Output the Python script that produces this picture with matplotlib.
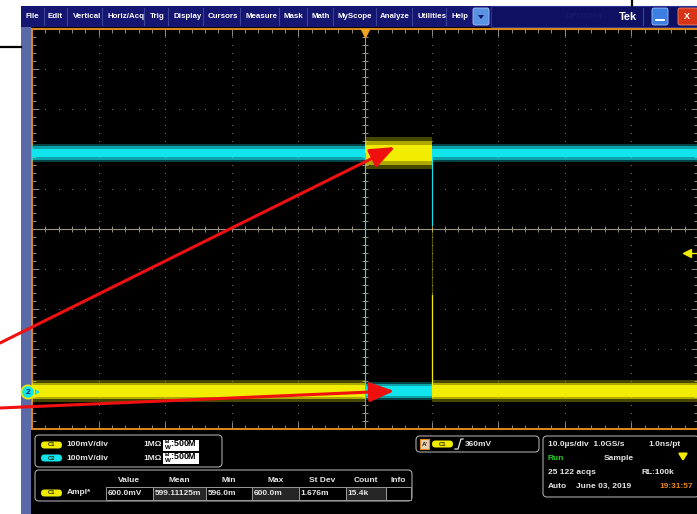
import numpy as np
import matplotlib.pyplot as plt
from matplotlib.patches import Rectangle, FancyBboxPatch, Circle, Polygon

plt.rcParams['font.family'] = ['Liberation Sans', 'DejaVu Sans']

W, H = 697, 514

# acquisition: time in us, screen position in mV (100 mV/div, 10 div)
seg_start = [-50, 0, 10]
seg_end = [0, 10, 50]
c1_level = [-405, 190, -405]      # yellow, Ampl ~600 mV
c1_core = [14, 20, 14]
c1_peak = [28, 40, 28]
c2_level = [190, -405, 190]       # cyan, inverted
c2_core = [11, 12, 11]
c2_peak = [22, 22, 22]
trig_level = -60

menu_labels = ["File", "Edit", "Vertical", "Horiz/Acq", "Trig", "Display", "Cursors",
               "Measure", "Mask", "Math", "MyScope", "Analyze", "Utilities", "Help"]

chan_names = ["C1", "C2"]
chan_scale = ["100mV/div", "100mV/div"]
meas_headers = ["Value", "Mean", "Min", "Max", "St Dev", "Count", "Info"]
meas_values = ["600.0mV", "599.11125m", "596.0m", "600.0m", "1.676m", "15.4k", ""]

YEL = '#f2ec00'
CYA = '#10e4ec'
ORG = '#d8871c'
TXT = '#e6e6e6'

fig = plt.figure(figsize=(W / 100, H / 100), dpi=100)
fig.patch.set_facecolor('white')

# --- window chrome, in pixel coordinates ---
bg = fig.add_axes([0, 0, 1, 1], zorder=0)
bg.set_xlim(0, W)
bg.set_ylim(H, 0)
bg.axis('off')

bg.add_patch(Rectangle((21, 27), W - 21, H - 27, fc='black', ec='none'))
bg.add_patch(Rectangle((21, 27), 10, H - 27, fc='#5a6aa8', ec='none'))
bg.add_patch(Rectangle((21, 6), W - 21, 21, fc='#141672', ec='none'))
bg.add_patch(Rectangle((491, 6), W - 491, 21, fc='#0e1062', ec='#2c3294', lw=0.8))
bg.plot([0, 21], [47, 47], color='black', lw=1.6)
bg.plot([632, 632], [0, 6], color='black', lw=1.6)

menu_x = [26, 48, 73, 107, 150, 173, 208, 245, 284, 312, 338, 380, 417, 451]
for lab, x in zip(menu_labels, menu_x):
    bg.text(x, 17, lab, color='white', fontsize=5.7, fontweight='bold', va='center', ha='left')
for x in [44, 67, 102, 144, 168, 203, 240, 279, 307, 333, 376, 412, 446, 643]:
    bg.plot([x, x], [8, 25], color='#3c4296', lw=0.8)

bg.add_patch(FancyBboxPatch((473, 8), 16, 17, boxstyle='round,pad=0,rounding_size=2',
                            fc='#5a92e4', ec='#a8c4f0', lw=0.6))
bg.add_patch(Polygon([[478, 15], [484, 15], [481, 19]], closed=True, fc='#14186a'))
bg.text(584, 17, "DPO5204", color='#161a6a', fontsize=6, fontweight='bold', va='center', ha='center')
bg.text(628, 16.5, "Tek", color='white', fontsize=8, fontweight='bold', va='center', ha='center')
bg.add_patch(FancyBboxPatch((652, 8), 16, 17, boxstyle='round,pad=0,rounding_size=2',
                            fc='#3b7fe2', ec='#9cc0f4', lw=0.6))
bg.plot([656, 664], [20, 20], color='white', lw=1.4)
bg.add_patch(FancyBboxPatch((678, 8), 20, 17, boxstyle='round,pad=0,rounding_size=2',
                            fc='#d83418', ec='#f08a70', lw=0.6))
bg.text(687, 16.5, "X", color='white', fontsize=6.5, fontweight='bold', va='center', ha='center')

# channel box
bg.add_patch(FancyBboxPatch((35, 435), 187, 32, boxstyle='round,pad=0,rounding_size=4',
                            fc='black', ec='#a8a8a8', lw=0.8))


def pill(x, y, name, fc):
    bg.add_patch(FancyBboxPatch((x, y - 3.5), 21, 7, boxstyle='round,pad=0,rounding_size=3.5',
                                fc=fc, ec='none'))
    bg.text(x + 10.5, y, name, color='#2a2a10', fontsize=4.2, fontweight='bold',
            va='center', ha='center')


for i, (nm, sc) in enumerate(zip(chan_names, chan_scale)):
    y = 445 + 13 * i
    pill(41, y, nm, YEL if nm == "C1" else CYA)
    bg.text(66, y, sc, color=TXT, fontsize=6, fontweight='bold', va='center')
    bg.text(143, y, "1MΩ", color=TXT, fontsize=6, fontweight='bold', va='center')
    bg.add_patch(Rectangle((163, y - 5.5), 36, 11, fc='white', ec='none'))
    bg.text(164, y, r"$\mathregular{^B_W}$:500M", color='black', fontsize=6.4,
            fontweight='bold', va='center')

# measurement box
bg.add_patch(FancyBboxPatch((35, 470), 377, 31, boxstyle='round,pad=0,rounding_size=4',
                            fc='black', ec='#a8a8a8', lw=0.8))
cell_x = [106, 153, 206, 252, 299, 346, 386, 411]
for i, (hd, val) in enumerate(zip(meas_headers, meas_values)):
    x0, x1 = cell_x[i], cell_x[i + 1]
    bg.text((x0 + x1) / 2, 480, hd, color=TXT, fontsize=6, fontweight='bold',
            va='center', ha='center')
    bg.add_patch(Rectangle((x0, 487), x1 - x0, 13, fc='#262626' if i % 2 else 'black',
                           ec='#9a9a9a', lw=0.7))
    bg.text(x0 + 1.5, 493.5, val, color=TXT, fontsize=6, fontweight='bold', va='center')
pill(41, 493, "C1", YEL)
bg.text(67, 493, "Ampl*", color=TXT, fontsize=6, fontweight='bold', va='center')

# trigger box
bg.add_patch(FancyBboxPatch((416, 436), 123, 16, boxstyle='round,pad=0,rounding_size=4',
                            fc='black', ec='#a8a8a8', lw=0.8))
bg.add_patch(Rectangle((420, 439), 9, 10, fc='#e8d0b0', ec='#e08a20', lw=0.8))
bg.text(424.5, 444, "A'", color='#202020', fontsize=4.5, fontweight='bold', va='center', ha='center')
pill(432, 444, "C1", YEL)
bg.plot([455, 458, 461, 463], [449, 449, 439, 439], color=TXT, lw=0.9)
bg.text(465, 444, "360mV", color=TXT, fontsize=6, fontweight='bold', va='center')

# timebase box
bg.add_patch(FancyBboxPatch((543, 436), 156, 61, boxstyle='round,pad=0,rounding_size=4',
                            fc='black', ec='#a8a8a8', lw=0.8))
bg.text(548, 444, "10.0µs/div  1.0GS/s", color=TXT, fontsize=6, fontweight='bold', va='center')
bg.text(648, 444, "1.0ns/pt", color=TXT, fontsize=6, fontweight='bold', va='center')
bg.text(548, 458, "Run", color='#22d422', fontsize=6, fontweight='bold', va='center')
bg.text(604, 458, "Sample", color=TXT, fontsize=6, fontweight='bold', va='center')
bg.annotate("", xy=(683, 464), xytext=(683, 452),
            arrowprops=dict(arrowstyle='-|>,head_length=0.4,head_width=0.25', color=YEL, lw=1.6))
bg.text(548, 472, "25 122 acqs", color=TXT, fontsize=6, fontweight='bold', va='center')
bg.text(641, 472, "RL:100k", color=TXT, fontsize=6, fontweight='bold', va='center')
bg.text(548, 486, "Auto", color=TXT, fontsize=6, fontweight='bold', va='center')
bg.text(576, 486, "June 03, 2019", color=TXT, fontsize=6, fontweight='bold', va='center')
bg.text(659, 486, "19:31:57", color='#e8861a', fontsize=6, fontweight='bold', va='center')

# --- graticule ---
ax = fig.add_axes([32 / W, (H - 429) / H, 666 / W, 400 / H], zorder=1)
ax.set_facecolor('black')
ax.set_xlim(-50, 50)
ax.set_ylim(-500, 500)
for s in ax.spines.values():
    s.set_color(ORG)
    s.set_linewidth(1.5)
xmin = np.arange(-50, 51, 2)
ymin = np.arange(-500, 501, 20)
ax.set_xticks(np.arange(-50, 51, 10))
ax.set_xticks(xmin, minor=True)
ax.set_yticks(np.arange(-500, 501, 100))
ax.set_yticks(ymin, minor=True)
ax.tick_params(which='both', direction='in', top=True, right=True,
               labelbottom=False, labelleft=False, color='#8c8c8c', width=0.7)
ax.tick_params(which='major', length=5)
ax.tick_params(which='minor', length=3)

for gx in range(-40, 41, 10):
    if gx != 0:
        ax.scatter(np.full(ymin.size, gx), ymin, s=0.6, color='#7a7a7a', lw=0)
for gy in range(-400, 401, 100):
    if gy != 0:
        ax.scatter(xmin, np.full(xmin.size, gy), s=0.6, color='#7a7a7a', lw=0)
ax.axvline(0, color='#9c9482', lw=0.8)
ax.axhline(0, color='#9c9482', lw=0.8)
ax.plot(xmin, np.zeros(xmin.size), ls='none', marker='|', ms=4, mew=0.7, color='#9c9482')
ax.plot(np.zeros(ymin.size), ymin, ls='none', marker='_', ms=4, mew=0.7, color='#9c9482')


def trace(levels, core, peak, color, z):
    # noise envelope drawn as a soft outer band around a solid core
    for t0, t1, lv, c, p in zip(seg_start, seg_end, levels, core, peak):
        ax.fill_between([t0, t1], lv - p, lv + p, color=color, alpha=0.3, lw=0, zorder=z)
        m = (c + p) / 2
        ax.fill_between([t0, t1], lv - m, lv + m, color=color, alpha=0.6, lw=0, zorder=z)
        ax.fill_between([t0, t1], lv - c, lv + c, color=color, lw=0, zorder=z + 0.1)


trace(c2_level, c2_core, c2_peak, CYA, 3)
trace(c1_level, c1_core, c1_peak, YEL, 4)

# transitions
ax.plot([seg_end[1], seg_end[1]], [c1_level[1], c1_level[2]], color=YEL, lw=0.8, alpha=0.35, zorder=4)
ax.plot([seg_end[1], seg_end[1]], [-165, c1_level[2]], color=YEL, lw=0.9, zorder=4)
ax.plot([seg_end[1], seg_end[1]], [c2_level[2], 10], color=CYA, lw=0.8, zorder=5)
ax.plot([seg_start[1], seg_start[1]], [c2_level[0], c2_level[1]], color=CYA, lw=0.8, zorder=5)

# trigger position and level markers
ax.plot(0, 490, marker='v', ms=6, color='#f4a020', clip_on=False, zorder=6)
ax.plot(48.3, trig_level, marker='<', ms=6, color=YEL, zorder=6)
ax.plot([48.5, 50], [trig_level, trig_level], color=YEL, lw=1, zorder=6)

# --- overlay: channel ground marker and red arrows ---
fg = fig.add_axes([0, 0, 1, 1], zorder=3)
fg.set_xlim(0, W)
fg.set_ylim(H, 0)
fg.axis('off')
fg.patch.set_alpha(0)
fg.add_patch(Circle((28, 392), 7.5, fc=YEL, ec='none'))
fg.add_patch(Circle((28, 392), 5.8, fc=CYA, ec='none'))
fg.text(28, 392.5, "2", color='#1a2060', fontsize=6, fontweight='bold', va='center', ha='center')
fg.add_patch(Polygon([[35, 389], [40, 392], [35, 395]], closed=True, fc=CYA))

arrow_kw = dict(arrowstyle='-|>,head_length=1.5,head_width=0.6', color='#f01010', lw=2.2,
                mutation_scale=10, shrinkA=0, shrinkB=0)
fg.annotate("", xy=(4.5, 205), xycoords=ax.transData, xytext=(0, 343), textcoords=fg.transData,
            arrowprops=arrow_kw)
fg.annotate("", xy=(4.4, c1_level[0]), xycoords=ax.transData, xytext=(0, 408),
            textcoords=fg.transData, arrowprops=arrow_kw)

fig.savefig('out.png', dpi=100, facecolor='white')
